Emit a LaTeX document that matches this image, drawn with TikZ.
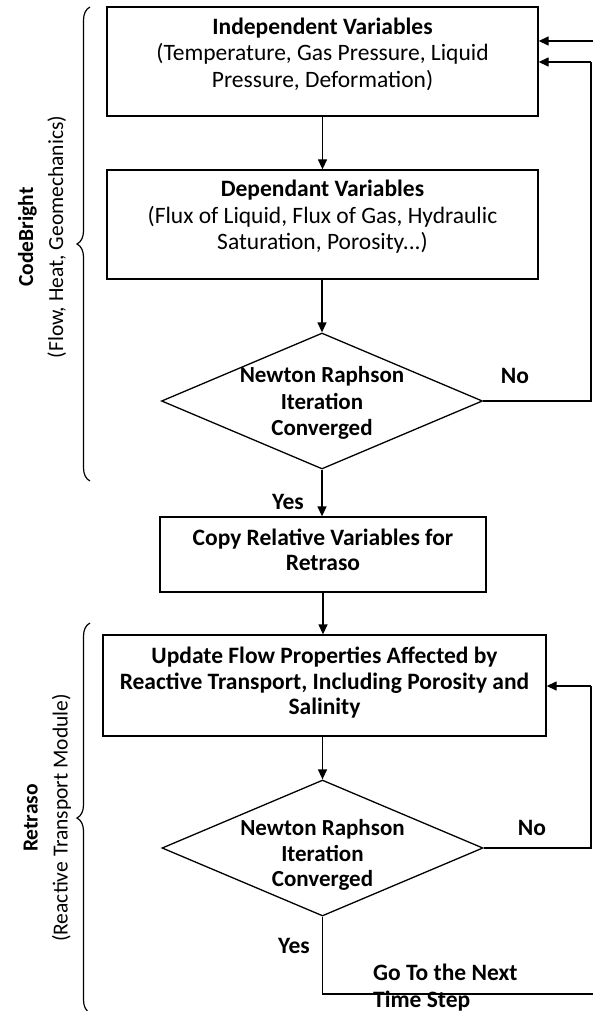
\documentclass[tikz,border=0pt]{standalone}
\usepackage{fontspec}
\setmainfont{Carlito}
\usetikzlibrary{shapes.geometric,arrows.meta,decorations.pathreplacing}
\begin{document}
\begin{tikzpicture}[x=1pt,y=-1pt,
  every node/.style={font=\fontsize{23.5}{26.5}\selectfont},
  box/.style={draw,line width=1.3pt,rectangle,inner sep=0pt},
  txt/.style={align=center,inner sep=0pt},
  dia/.style={draw,line width=1.3pt,diamond,inner sep=0pt,minimum width=321pt,minimum height=136pt},
  lbl/.style={inner sep=0pt,font=\fontsize{23.5}{26.5}\selectfont\bfseries},
  side/.style={align=center,rotate=90,inner sep=0pt,font=\fontsize{21.5}{30}\selectfont},
  arr/.style={line width=1.3pt,-{Triangle[length=10pt,width=9pt]}},
  ln/.style={line width=1.3pt},
  brc/.style={line width=1.2pt,decorate,decoration={brace,amplitude=13pt}}]
\useasboundingbox (0,0) rectangle (593,1011);

% boxes
\node[box,minimum width=431pt,minimum height=109pt] (b1) at (322.5,61.5) {};
\node[txt] (t1) at (322.5,54) {\textbf{Independent Variables}\\(Temperature, Gas Pressure, Liquid\\Pressure, Deformation)};
\node[box,minimum width=431pt,minimum height=109pt] (b2) at (322.5,224.5) {};
\node[txt] (t2) at (322.5,217) {\textbf{Dependant Variables}\\(Flux of Liquid, Flux of Gas, Hydraulic\\Saturation, Porosity...)};
\node[dia] (d1) at (322,401) {};
\node[txt,font=\fontsize{23}{26.5}\selectfont\bfseries] (t3) at (322,403) {Newton Raphson\\Iteration\\Converged};
\node[box,minimum width=326pt,minimum height=75pt] (b3) at (323,554.5) {};
\node[txt,font=\fontsize{23.5}{25}\selectfont\bfseries] (t4) at (323,550) {Copy Relative Variables for\\Retraso};
\node[box,minimum width=443pt,minimum height=101pt] (b4) at (324.5,685.5) {};
\node[txt,font=\fontsize{23.5}{25.5}\selectfont\bfseries] (t5) at (324.5,683) {Update Flow Properties Affected by\\Reactive Transport, Including Porosity and\\Salinity};
\node[dia] (d2) at (322.5,848) {};
\node[txt,font=\fontsize{23}{25.5}\selectfont\bfseries] (t6) at (322.5,855) {Newton Raphson\\Iteration\\Converged};

% labels
\node[lbl] (no1) at (515,376) {No};
\node[lbl] (yes1) at (288,502) {Yes};
\node[lbl] (no2) at (532,828) {No};
\node[lbl] (yes2) at (294,946) {Yes};
\node[lbl,align=left,anchor=west,font=\fontsize{23.5}{26.5}\selectfont\bfseries] (next) at (373,987.5) {Go To the Next\\Time Step};

% side labels
\node[side] (s1) at (42,237) {\textbf{CodeBright}\\(Flow, Heat, Geomechanics)};
\node[side] (s2) at (47.5,818) {\textbf{Retraso}\\(Reactive Transport Module)};

% braces
\coordinate (br1a) at (90,481);
\coordinate (br1b) at (90,7);
\coordinate (br2a) at (90,1013);
\coordinate (br2b) at (90,623);
\draw[brc] (br1a) -- (br1b);
\draw[brc] (br2a) -- (br2b);

% coordinates for loops
\coordinate (c0) at (593,41);
\coordinate (c1) at (591,62);
\coordinate (c2) at (591,686);
\coordinate (c3) at (593,994);

% connectors
\draw[arr] (b1.south) -- (b2.north);
\draw[arr] (b2.south -| d1.north) -- (d1.north);
\draw[ln] (d1.east) -| (c1);
\draw[arr] (c1) -- (c1 -| b1.east);
\draw[arr] (c0) -- (c0 -| b1.east);
\draw[arr] (d1.south) -- (d1.south |- b3.north);
\draw[arr] (b3.south) -- (b3.south |- b4.north);
\draw[arr] (b4.south -| d2.north) -- (d2.north);
\draw[ln] (d2.east) -| (c2);
\draw[arr] (c2) -- (c2 -| b4.east);
\draw[ln] (d2.south) |- (c3);
\end{tikzpicture}
\end{document}
